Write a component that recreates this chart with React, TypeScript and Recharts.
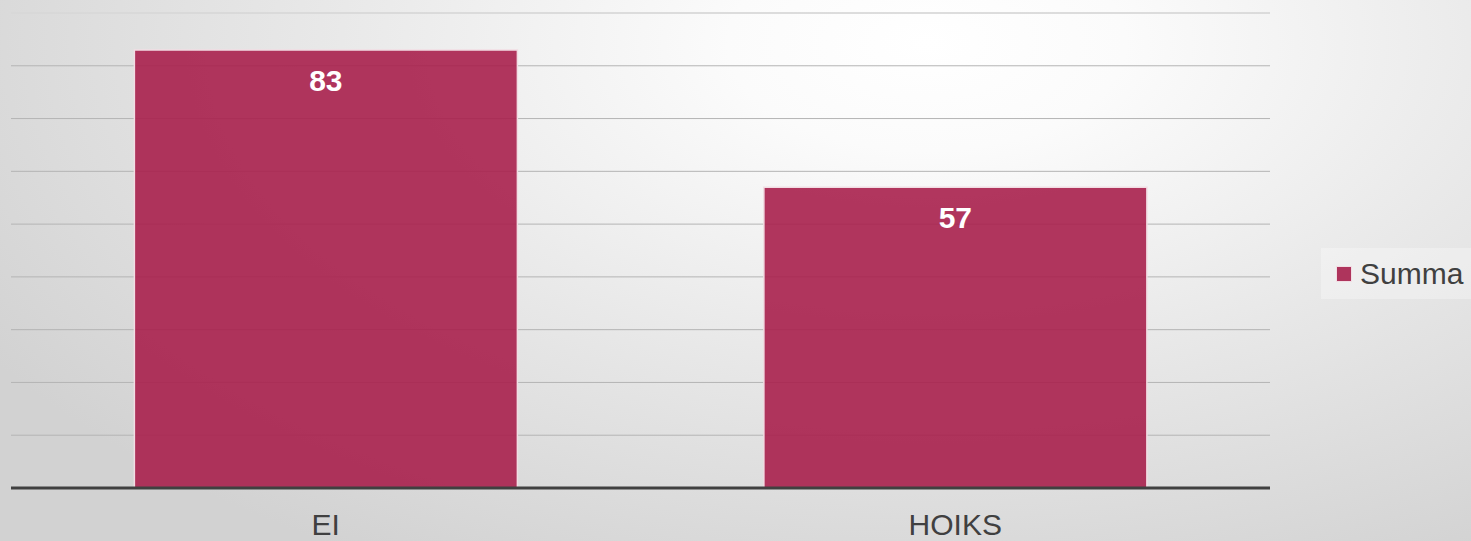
import React from "react";
import { BarChart, Bar, XAxis, YAxis, CartesianGrid, LabelList, ReferenceLine } from "recharts";

const categories = ["EI", "HOIKS"];
const summaValues = [83, 57];
const yTicks = [0, 10, 20, 30, 40, 50, 60, 70, 80];

const data = categories.map((name, i) => ({ name, Summa: summaValues[i] }));

const FONT = "'Liberation Sans', Arial, sans-serif";
const BAR_COLOR = "#a8204d";

export default function App() {
  return (
    <div
      style={{
        position: "absolute",
        top: 0,
        left: 0,
        width: 1471,
        height: 541,
        fontFamily: FONT,
        background:
          "radial-gradient(ellipse 75% 110% at 63% 8%, #ffffff 0%, #fbfbfb 18%, #e8e8e8 55%, #d2d2d2 100%)",
      }}
    >
      <BarChart
        width={1471}
        height={541}
        data={data}
        margin={{ top: 13, right: 201, bottom: 0, left: 11 }}
        barCategoryGap="19.6%"
      >
        <CartesianGrid vertical={false} stroke="#b4b4b4" strokeWidth={1} />
        <ReferenceLine y={90} stroke="#dedede" strokeWidth={1.5} ifOverflow="visible" />
        <YAxis hide domain={[0, 90]} ticks={yTicks} />
        <XAxis
          dataKey="name"
          height={53}
          axisLine={{ stroke: "#404040", strokeWidth: 3 }}
          tickLine={false}
          tickMargin={20}
          tick={{ fill: "#404040", fontSize: 30, fontFamily: FONT }}
        />
        <Bar
          dataKey="Summa"
          fill={BAR_COLOR}
          fillOpacity={0.9}
          stroke="#f2dde3"
          strokeWidth={1.5}
          isAnimationActive={false}
        >
          <LabelList
            dataKey="Summa"
            position="insideTop"
            offset={20}
            fill="#ffffff"
            style={{ fontSize: 30, fontWeight: "bold", fontFamily: FONT }}
          />
        </Bar>
      </BarChart>
      <div
        style={{
          position: "absolute",
          left: 1321,
          top: 248,
          width: 150,
          height: 51,
          background: "rgba(255,255,255,0.3)",
          display: "flex",
          alignItems: "center",
        }}
      >
        <div
          style={{
            width: 16,
            height: 16,
            marginLeft: 15,
            background: BAR_COLOR,
            opacity: 0.9,
            border: "1px solid #f2dde3",
            boxSizing: "border-box",
          }}
        />
        <span style={{ marginLeft: 8, fontSize: 30, color: "#404040", lineHeight: 1 }}>Summa</span>
      </div>
    </div>
  );
}
